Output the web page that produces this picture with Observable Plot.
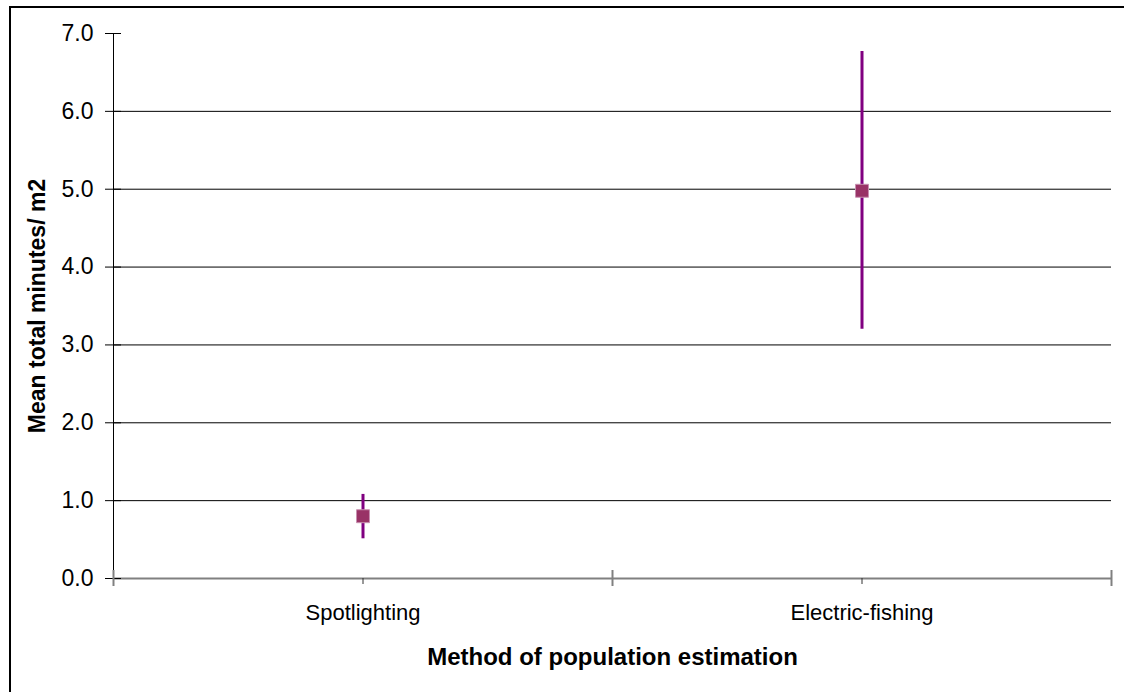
<!DOCTYPE html>
<html>
<head>
<meta charset="utf-8">
<script src="https://cdn.jsdelivr.net/npm/d3@7"></script>
<script src="https://cdn.jsdelivr.net/npm/@observablehq/plot@0.6"></script>
<style>
  html, body { margin: 0; padding: 0; background: #fff; }
  #wrap { position: relative; width: 1124px; height: 692px; overflow: hidden; }
  #frame { position: absolute; left: 9px; top: 6px; width: 1200px; height: 800px;
           border-left: 2px solid #000; border-top: 2px solid #000; pointer-events: none; }
  #chart { position: absolute; left: 0; top: 0; }
</style>
</head>
<body>
<div id="wrap"><div id="chart"></div><div id="frame"></div></div>
<script>
const categories = ["Spotlighting", "Electric-fishing"];
const means = [0.80, 4.98];
const lows = [0.51, 3.20];
const highs = [1.08, 6.77];
const yTicks = [0, 1, 2, 3, 4, 5, 6, 7];
const gridValues = [1, 2, 3, 4, 5, 6];
const yLabel = "Mean total minutes/ m2";
const xLabel = "Method of population estimation";

const data = categories.map((c, i) => ({cat: c, pos: i + 0.5, mean: means[i], low: lows[i], high: highs[i]}));

const chart = Plot.plot({
  width: 1124,
  height: 692,
  marginLeft: 113,
  marginRight: 13,
  marginTop: 33,
  marginBottom: 114,
  style: {fontFamily: "'Liberation Sans', Arial, sans-serif", fontSize: "22px", color: "#000", background: "transparent"},
  x: {type: "linear", domain: [0, categories.length], axis: null},
  y: {domain: [0, 7], axis: null},
  marks: [
    Plot.ruleY(gridValues, {stroke: "#000", strokeWidth: 1}),
    Plot.ruleX([0], {stroke: "#000", strokeWidth: 1}),
    Plot.ruleY([0], {stroke: "#808080", strokeWidth: 2}),
    // y ticks crossing the axis
    Plot.axisY({ticks: yTicks, tickSize: 16, dx: 8, text: null, stroke: "#000", label: null}),
    // y tick labels
    Plot.axisY({ticks: yTicks, tickSize: 0, tickPadding: 20, tickFormat: d3.format(".1f"), fontSize: 23, label: null}),
    // x boundary ticks crossing
    Plot.axisX({ticks: d3.range(categories.length + 1), tickSize: 16, dy: -8, text: null, stroke: "#808080", strokeWidth: 2, label: null}),
    // category labels
    Plot.axisX({ticks: data.map(d => d.pos), tickSize: 6, tickPadding: 20, tickFormat: v => categories[Math.round(v - 0.5)], stroke: "#333", fontSize: 22, label: null}),
    // error bars
    Plot.ruleX(data, {x: "pos", y1: "low", y2: "high", stroke: "#800080", strokeWidth: 3}),
    // means
    Plot.dot(data, {x: "pos", y: "mean", symbol: "square", r: 7.3, fill: "#993366", stroke: "#c890b0", strokeWidth: 1}),
    // titles
    Plot.text([yLabel], {frameAnchor: "left", textAnchor: "middle", rotate: -90, dx: -76, fontWeight: "bold", fontSize: 23}),
    Plot.text([xLabel], {frameAnchor: "bottom", textAnchor: "middle", dy: 86, fontWeight: "bold", fontSize: 24})
  ]
});
document.getElementById("chart").appendChild(chart);
</script>
</body>
</html>
